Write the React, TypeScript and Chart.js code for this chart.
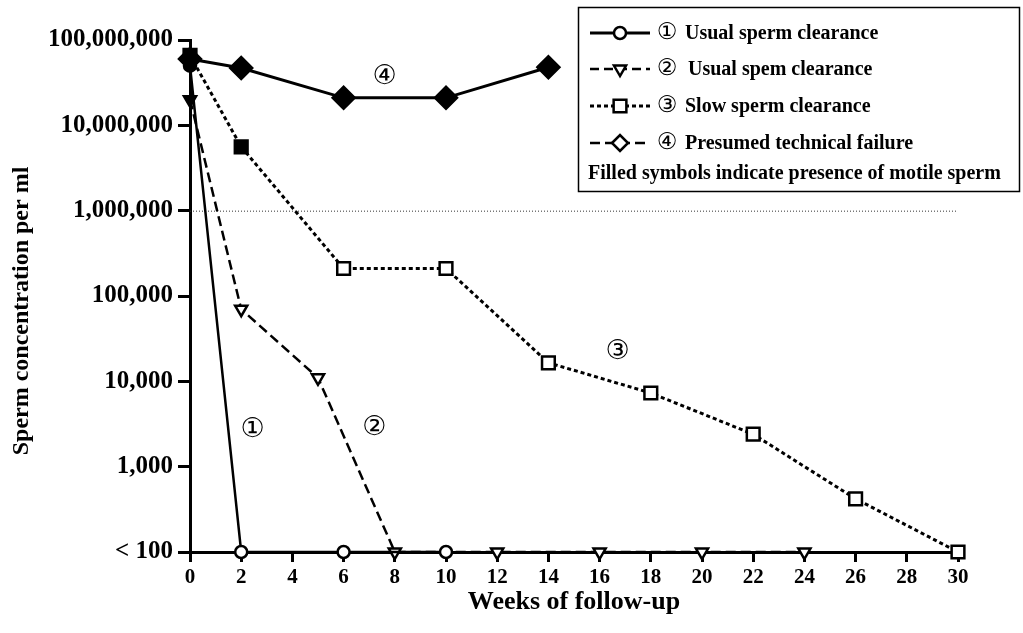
import React, { useEffect, useRef } from 'react';
import { Chart, registerables } from 'chart.js';

Chart.register(...registerables);

// ---- data ----
const WEEKS_1 = [0, 2, 6, 10];
const CONC_1 = [50000000, 100, 100, 100];
const FILLED_1 = [true, false, false, false];

const WEEKS_2 = [0, 2, 5, 8, 12, 16, 20, 24];
const CONC_2 = [20000000, 70000, 11000, 100, 100, 100, 100, 100];
const FILLED_2 = [true, false, false, false, false, false, false, false];

const WEEKS_3 = [0, 2, 6, 10, 14, 18, 22, 26, 30];
const CONC_3 = [66000000, 5600000, 210000, 210000, 16500, 7300, 2400, 420, 100];
const FILLED_3 = [true, true, false, false, false, false, false, false, false];

const WEEKS_4 = [0, 2, 6, 10, 14];
const CONC_4 = [60000000, 47000000, 21000000, 21000000, 48000000];
const FILLED_4 = [true, true, true, true, true];

const Y_TICKS = [100, 1000, 10000, 100000, 1000000, 10000000, 100000000];
const X_MIN = 0;
const X_MAX = 30;
const X_STEP = 2;
const THRESHOLD = 1000000;

const SERIES_MARKS = ['\u2460', '\u2461', '\u2462', '\u2463'];
const LEGEND_LABELS = [
  'Usual sperm clearance',
  'Usual spem clearance',
  'Slow sperm clearance',
  'Presumed technical failure',
];
const LEGEND_NOTE = 'Filled symbols indicate presence of motile sperm';
const Y_TITLE = 'Sperm concentration per ml';
const X_TITLE = 'Weeks of follow-up';

const ANNOT_WEEKS = [2.45, 7.2, 16.7, 7.6];
const ANNOT_CONC = [2700, 2840, 22000, 37000000];

const SERIF = "'Liberation Serif', 'Times New Roman', serif";
const SANS = "'DejaVu Sans', sans-serif";

const toPts = (w: number[], c: number[]) => w.map((x, i) => ({ x, y: c[i] }));
const fills = (f: boolean[]) => f.map((v) => (v ? '#000' : '#fff'));

function drawMarker(ctx: CanvasRenderingContext2D, style: string, x: number, y: number, r: number) {
  ctx.beginPath();
  if (style === 'circle') {
    ctx.arc(x, y, r, 0, Math.PI * 2);
  } else if (style === 'triangle') {
    ctx.moveTo(x, y + r);
    ctx.lineTo(x - r * 0.866, y - r * 0.5);
    ctx.lineTo(x + r * 0.866, y - r * 0.5);
    ctx.closePath();
  } else if (style === 'rect') {
    const s = r * Math.SQRT1_2;
    ctx.rect(x - s, y - s, 2 * s, 2 * s);
  } else {
    ctx.moveTo(x - r, y);
    ctx.lineTo(x, y - r);
    ctx.lineTo(x + r, y);
    ctx.lineTo(x, y + r);
    ctx.closePath();
  }
  ctx.fillStyle = '#fff';
  ctx.fill();
  ctx.stroke();
}

const overlayPlugin = {
  id: 'overlay',
  beforeDatasetsDraw(chart: any) {
    const { ctx, scales } = chart;
    const y = scales.y.getPixelForValue(THRESHOLD);
    ctx.save();
    ctx.strokeStyle = '#333';
    ctx.lineWidth = 1;
    ctx.setLineDash([1, 2]);
    ctx.beginPath();
    ctx.moveTo(scales.x.getPixelForValue(X_MIN), y + 0.5);
    ctx.lineTo(scales.x.getPixelForValue(X_MAX), y + 0.5);
    ctx.stroke();
    ctx.restore();
  },
  afterDraw(chart: any) {
    const { ctx, scales } = chart;
    ctx.save();
    // y-axis title
    ctx.fillStyle = '#000';
    ctx.font = `bold 24px ${SERIF}`;
    ctx.textAlign = 'center';
    ctx.textBaseline = 'middle';
    ctx.translate(22, 311);
    ctx.rotate(-Math.PI / 2);
    ctx.fillText(Y_TITLE, 0, 0);
    ctx.setTransform(1, 0, 0, 1, 0, 0);

    // annotations
    ctx.font = `27px ${SANS}`;
    ANNOT_WEEKS.forEach((w, i) => {
      ctx.fillText(SERIES_MARKS[i], scales.x.getPixelForValue(w), scales.y.getPixelForValue(ANNOT_CONC[i]));
    });

    // legend box
    const bx = 578, by = 7, bw = 441, bh = 184;
    ctx.fillStyle = '#fff';
    ctx.fillRect(bx, by, bw, bh);
    ctx.strokeStyle = '#000';
    ctx.lineWidth = 1.5;
    ctx.setLineDash([]);
    ctx.strokeRect(bx + 0.5, by + 0.5, bw, bh);

    const rows = [33, 69, 106, 143];
    const dashes = [[], [9, 5], [4, 3], [10, 5]];
    const widths = [3, 2.5, 3, 2.5];
    const styles = ['circle', 'triangle', 'rect', 'diamond'];
    const radii = [6, 7, 9, 8];
    rows.forEach((ry, i) => {
      ctx.strokeStyle = '#000';
      ctx.lineWidth = widths[i];
      ctx.setLineDash(dashes[i]);
      ctx.beginPath();
      ctx.moveTo(590, ry);
      ctx.lineTo(650, ry);
      ctx.stroke();
      ctx.setLineDash([]);
      ctx.lineWidth = 2.5;
      drawMarker(ctx, styles[i], 620, ry, radii[i]);
      ctx.fillStyle = '#000';
      ctx.font = `23px ${SANS}`;
      ctx.textAlign = 'center';
      ctx.textBaseline = 'middle';
      ctx.fillText(SERIES_MARKS[i], 667, ry);
      ctx.font = `bold 20px ${SERIF}`;
      ctx.textAlign = 'left';
      ctx.fillText(LEGEND_LABELS[i], i === 1 ? 688 : 685, ry + 1);
    });
    ctx.font = `bold 20px ${SERIF}`;
    ctx.textAlign = 'left';
    ctx.textBaseline = 'middle';
    ctx.fillText(LEGEND_NOTE, 588, 174, 424);
    ctx.restore();
  },
};

export default function App() {
  const ref = useRef<HTMLCanvasElement | null>(null);

  useEffect(() => {
    if (!ref.current) return;
    const base = {
      borderColor: '#000',
      pointBorderColor: '#000',
      pointBorderWidth: 2.5,
      tension: 0,
      clip: false as any,
      fill: false,
    };
    const chart = new Chart(ref.current, {
      type: 'line',
      data: {
        datasets: [
          {
            ...base,
            label: LEGEND_LABELS[0],
            data: toPts(WEEKS_1, CONC_1),
            borderWidth: 2.5,
            pointStyle: 'circle',
            pointRadius: 6,
            pointBackgroundColor: fills(FILLED_1),
          },
          {
            ...base,
            label: LEGEND_LABELS[1],
            data: toPts(WEEKS_2, CONC_2),
            borderWidth: 2.5,
            borderDash: [10, 5],
            pointStyle: 'triangle',
            pointRotation: 180,
            pointRadius: 7,
            pointBackgroundColor: fills(FILLED_2),
          },
          {
            ...base,
            label: LEGEND_LABELS[2],
            data: toPts(WEEKS_3, CONC_3),
            borderWidth: 3,
            borderDash: [4, 3],
            pointStyle: 'rect',
            pointRadius: 9,
            pointBackgroundColor: fills(FILLED_3),
          },
          {
            ...base,
            label: LEGEND_LABELS[3],
            data: toPts(WEEKS_4, CONC_4),
            borderWidth: 3,
            pointStyle: 'rectRot',
            pointRadius: 11,
            pointBackgroundColor: fills(FILLED_4),
          },
        ],
      },
      options: {
        animation: false,
        responsive: false,
        layout: { padding: { top: 40, right: 65, left: 0, bottom: 0 } },
        plugins: { legend: { display: false }, tooltip: { enabled: false } },
        scales: {
          x: {
            type: 'linear',
            min: X_MIN,
            max: X_MAX,
            afterFit: (s: any) => { s.height = 81; },
            ticks: {
              stepSize: X_STEP,
              color: '#000',
              padding: 3,
              font: { family: SERIF, weight: 'bold', size: 21 },
            },
            grid: { drawOnChartArea: false, tickLength: 10, tickWidth: 3, tickColor: '#000' },
            border: { display: true, color: '#000', width: 3 },
            title: {
              display: true,
              text: X_TITLE,
              color: '#000',
              font: { family: SERIF, weight: 'bold', size: 26 },
              padding: { bottom: 15, top: 0 },
            },
          },
          y: {
            type: 'logarithmic',
            min: Y_TICKS[0],
            max: Y_TICKS[Y_TICKS.length - 1],
            afterFit: (s: any) => { s.width = 190; },
            afterBuildTicks: (s: any) => { s.ticks = Y_TICKS.map((v) => ({ value: v })); },
            ticks: {
              color: '#000',
              padding: 5,
              font: { family: SERIF, weight: 'bold', size: 25 },
              callback: (v: any) => (Number(v) === Y_TICKS[0] ? '< 100' : Number(v).toLocaleString('en-US')),
            },
            grid: { drawOnChartArea: false, tickLength: 12, tickWidth: 3, tickColor: '#000' },
            border: { display: true, color: '#000', width: 3 },
            title: { display: false },
          },
        },
      },
      plugins: [overlayPlugin],
    } as any);
    return () => chart.destroy();
  }, []);

  return (
    <div style={{ position: 'fixed', left: 0, top: 0, width: 1023, height: 633, background: '#fff' }}>
      <canvas ref={ref} width={1023} height={633} />
    </div>
  );
}
